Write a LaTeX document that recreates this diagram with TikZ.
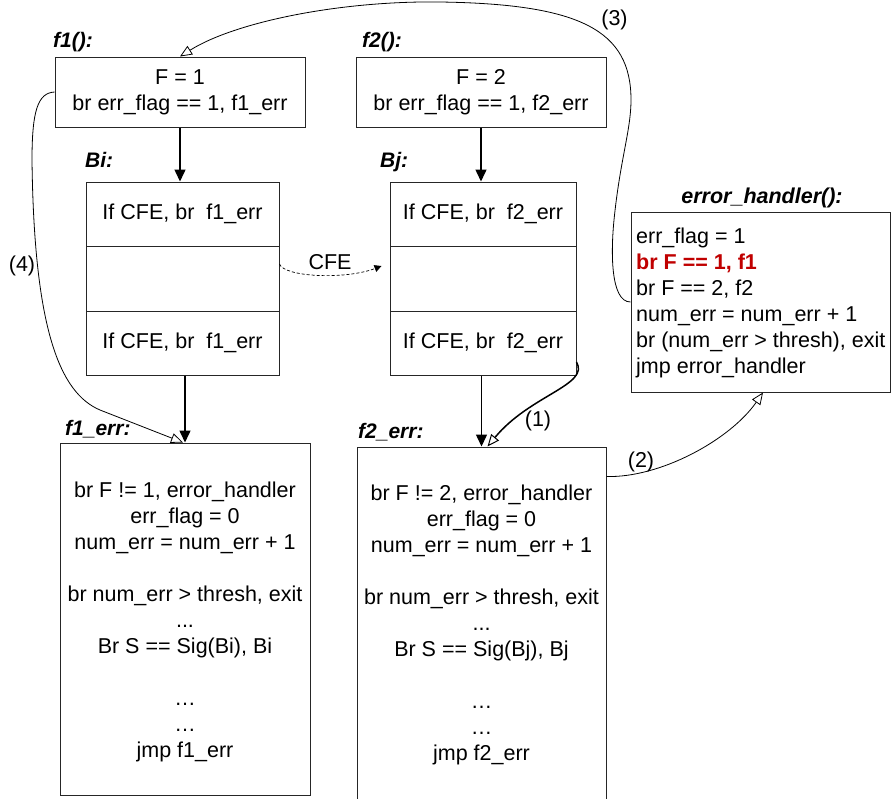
\documentclass[tikz,border=0pt]{standalone}
\usepackage{fontspec}
\setmainfont{Liberation Sans}
\usetikzlibrary{arrows.meta}
\definecolor{errred}{RGB}{192,0,0}
\begin{document}
\begin{tikzpicture}[x=1pt,y=1pt,
  every node/.style={font=\fontsize{21.5}{26}\selectfont, inner sep=0pt},
  box/.style={draw=black!85, line width=1pt, rectangle, inner sep=0pt},
  lbl/.style={font=\fontsize{21}{25}\selectfont\bfseries\itshape, anchor=base west},
  txt/.style={align=center},
  flow/.style={line width=1.5pt, -{Triangle[length=12pt,width=11pt]}},
  jump/.style={line width=0.8pt, -{Triangle[open,length=12pt,width=10pt,line width=0.8pt]}},
  cfe/.style={line width=0.7pt, dash pattern=on 3pt off 2pt, -{Triangle[length=7pt,width=7pt]}},
]
\useasboundingbox (0,0) rectangle (891,-798);

% f1 / f2
\node[box, minimum width=250, minimum height=70, txt] (f1) at (180,-92) {F = 1\\br err\_flag == 1, f1\_err};
\node[box, minimum width=250, minimum height=70, txt] (f2) at (481,-92) {F = 2\\br err\_flag == 1, f2\_err};
\node[lbl] (f1lbl) at (53,-47) {f1():};
\node[lbl] (f2lbl) at (362,-47) {f2():};

% Bi
\node[box, minimum width=193, minimum height=64] (bi1) at (182.5,-214) {If CFE, br\ \ f1\_err};
\node[box, minimum width=193, minimum height=65] (bi2) at (182.5,-278.5) {};
\node[box, minimum width=193, minimum height=64] (bi3) at (182.5,-343) {If CFE, br\ \ f1\_err};
\node[lbl] (bilbl) at (85,-167) {Bi:};

% Bj
\node[box, minimum width=186, minimum height=64] (bj1) at (483,-214) {If CFE, br\ \ f2\_err};
\node[box, minimum width=186, minimum height=65] (bj2) at (483,-278.5) {};
\node[box, minimum width=186, minimum height=64] (bj3) at (483,-343) {If CFE, br\ \ f2\_err};
\node[lbl] (bjlbl) at (380,-167) {Bj:};

% f1_err
\node[box, minimum width=250, minimum height=352] (f1err) at (185,-619) {};
\node[lbl] (f1errlbl) at (65,-435) {f1\_err:};
\node[txt, anchor=north] (f1errtxt) at (185,-481.3) {br F != 1, error\_handler\\err\_flag = 0\\num\_err = num\_err + 1\\\mbox{}\\br num\_err > thresh, exit\\...\\Br S == Sig(Bi), Bi\\\mbox{}\\…\\…\\jmp f1\_err};

% f2_err
\node[box, minimum width=249, minimum height=363] (f2err) at (481.5,-628.5) {};
\node[lbl] (f2errlbl) at (358,-438) {f2\_err:};
\node[txt, anchor=north] (f2errtxt) at (481.5,-484.3) {br F != 2, error\_handler\\err\_flag = 0\\num\_err = num\_err + 1\\\mbox{}\\br num\_err > thresh, exit\\...\\Br S == Sig(Bj), Bj\\\mbox{}\\…\\…\\jmp f2\_err};

% error_handler
\node[box, minimum width=259, minimum height=180] (eh) at (760.5,-302) {};
\node[font=\fontsize{21.5}{26}\selectfont\bfseries\itshape, anchor=base] (ehlbl) at (762,-203) {error\_handler():};
\node[align=left, anchor=north west] (ehtxt) at (636,-227.3) {err\_flag = 1\\\textcolor{errred}{\bfseries br F == 1, f1}\\br F == 2, f2\\num\_err = num\_err + 1\\br (num\_err > thresh), exit\\jmp error\_handler};

% open-head jumps
\draw[jump] (eh.west) .. controls (610,-302) and (611,-250) .. (614,-220)
  .. controls (620,-160) and (631,-130) .. (631,-100)
  .. controls (631,-30) and (580,-4) .. (440,-2)
  .. controls (340,-0.6) and (235,-22) .. (f1.north);
\node (l3) at (614.5,-20) {(3)};

\draw[jump] (f1.west) .. controls (38,-93) and (32,-110) .. (32,-160)
  .. controls (34,-330) and (60,-393) .. (100,-410) -- ([xshift=-2pt]f1err.north);
\node (l4) at (22,-266) {(4)};

\draw[jump] ([yshift=-30pt]f2err.north east) .. controls (660,-478) and (730,-440) .. ([xshift=2.5pt]eh.south);
\node (l2) at (641,-462) {(2)};

\draw[line width=1.5pt, -{Triangle[open,length=12pt,width=10pt,line width=1pt]}] ([yshift=-19pt]bj3.east) .. controls (590,-385) and (530,-395) .. ([xshift=6pt]f2err.north);
\node (l1) at (538,-421) {(1)};

% CFE
\draw[cfe] ([yshift=14.5pt]bi2.east) .. controls (284,-277) and (345,-280) .. ([xshift=-8pt,yshift=12.5pt]bj2.west);
\node (lcfe) at (330,-262) {CFE};

% filled flow arrows
\draw[flow] (f1.south) -- (f1.south |- bi1.north);
\draw[flow] (f2.south) -- (f2.south |- bj1.north);
\draw[flow] (bi3.south -| f1err.north) -- (f1err.north);
\draw[flow] (bj3.south -| f2err.north) -- (f2err.north);
\end{tikzpicture}
\end{document}
